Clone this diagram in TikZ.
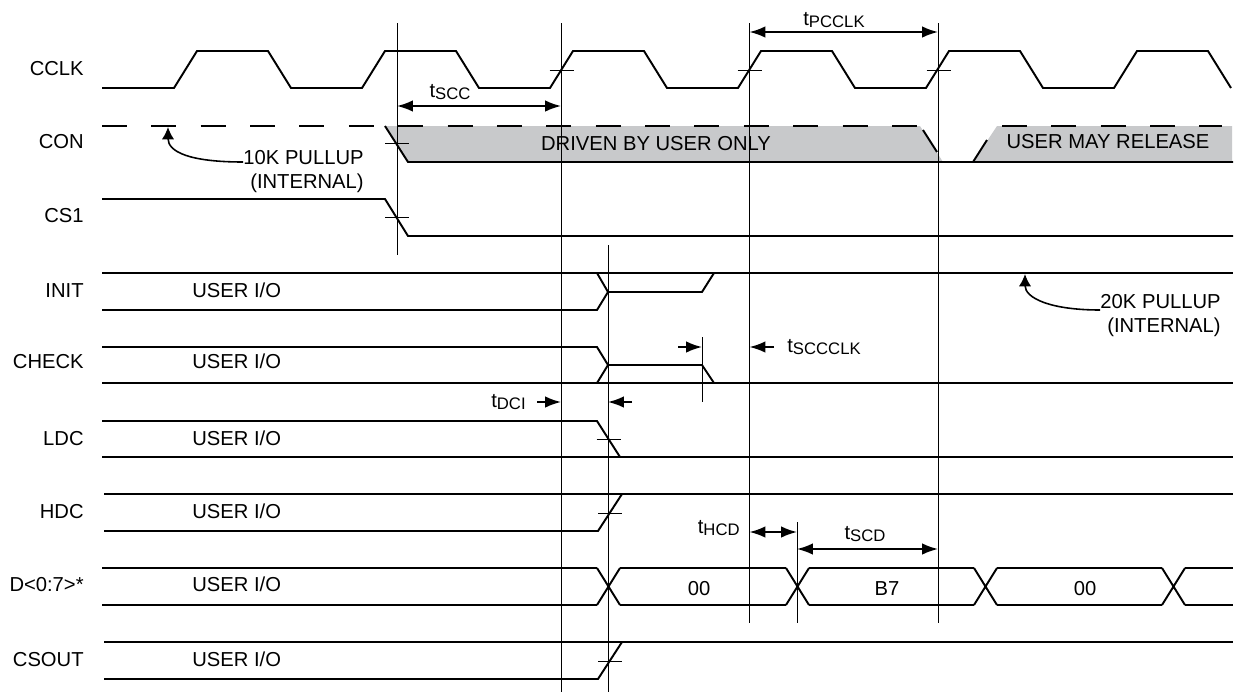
\documentclass[tikz,border=0pt]{standalone}
\usepackage{fontspec}
\setmainfont{Liberation Sans}
\usetikzlibrary{arrows.meta}
\definecolor{drivegray}{RGB}{200,201,203}
\newcommand{\tsub}[1]{t\raisebox{-1.7pt}{\fontsize{9.5}{10}\selectfont #1}}

\begin{document}
\begin{tikzpicture}[x=0.02cm,y=-0.02cm,
    sig/.style={line width=1.1pt},
    tline/.style={line width=0.55pt},
    tickmk/.style={line width=0.55pt},
    dimarrow/.style={line width=1pt,{Latex[length=9pt,width=6.5pt]}-{Latex[length=9pt,width=6.5pt]}},
    halfarrow/.style={line width=1pt,-{Latex[length=9pt,width=6.5pt]}},
    pull/.style={line width=0.9pt,-{Latex[length=7pt,width=7pt]}},
    lbl/.style={inner sep=0pt,font=\fontsize{11.5}{13.6}\selectfont},
    conpat/.style={sig,dash pattern=on 14.2pt off 13.9pt}]

    \useasboundingbox (0,0) rectangle (1235,694);

    % signal names
    \node[lbl,anchor=base east] (lcclk) at (84,75.5) {CCLK};
    \node[lbl,anchor=base east] (lcon) at (84,148) {CON};
    \node[lbl,anchor=base east] (lcs1) at (84,222) {CS1};
    \node[lbl,anchor=base east] (linit) at (84,297) {INIT};
    \node[lbl,anchor=base east] (lcheck) at (84,368) {CHECK};
    \node[lbl,anchor=base east] (lldc) at (84,445) {LDC};
    \node[lbl,anchor=base east] (lhdc) at (84,518) {HDC};
    \node[lbl,anchor=base east] (ldata) at (84,591) {D<0:7>*};
    \node[lbl,anchor=base east] (lcsout) at (84,666) {CSOUT};
    \foreach \y/\n in {297/init,368/check,445/ldc,518/hdc,591/data,666/csout}
      \node[lbl,anchor=base west] (io\n) at (192,\y) {USER I/O};

    % CON driven region
    \fill[drivegray] (385,126) -- (408,162) -- (943,162) -- (920,126) -- cycle;
    \fill[drivegray] (973,162) -- (997,126) -- (1232,126) -- (1232,162) -- cycle;
    \node[lbl,anchor=base] (driven) at (656,150) {DRIVEN BY USER ONLY};
    \node[lbl,anchor=base] (release) at (1108,148) {USER MAY RELEASE};

    % CCLK
    \draw[sig] (102,88) foreach \k in {0,...,5} {
      -- ({174+188*\k},88) -- ({197+188*\k},51) -- ({268+188*\k},51) -- ({291+188*\k},88) };

    % CON
    \draw[conpat] (102,126) -- (920,126);
    \draw[conpat] (1002,126) -- (1222,126);
    \draw[sig] (385,126) -- (408,162) -- (1233,162);
    \draw[sig] (923,130) -- (937,152);
    \draw[sig] (973,162) -- (987,140);

    % CS1
    \draw[sig] (102,199) -- (385,199) -- (408,236) -- (1233,236);

    % INIT
    \draw[sig] (102,273) -- (1233,273);
    \draw[sig] (102,310) -- (597,310) -- (608,292) -- (702,292) -- (714,273);
    \draw[sig] (597,273) -- (608,292);

    % CHECK
    \draw[sig] (102,383) -- (1233,383);
    \draw[sig] (102,347) -- (597,347) -- (608,365) -- (702,365) -- (714,383);
    \draw[sig] (597,383) -- (608,365);

    % LDC
    \draw[sig] (102,421) -- (597,421) -- (620,457);
    \draw[sig] (102,457) -- (1233,457);

    % HDC
    \draw[sig] (104,494) -- (1233,494);
    \draw[sig] (104,531) -- (598,531) -- (622,494);

    % D<0:7>
    \draw[sig] (102,568) -- (597,568) (620,568) -- (786,568) (809,568) -- (974,568)
      (997,568) -- (1162,568) (1185,568) -- (1233,568);
    \draw[sig] (102,605) -- (597,605) (620,605) -- (786,605) (809,605) -- (974,605)
      (997,605) -- (1162,605) (1185,605) -- (1233,605);
    \foreach \c in {608.5,797.5,985.5,1173.5}
      \draw[sig] ({\c-11.5},568) -- ({\c+11.5},605) ({\c-11.5},605) -- ({\c+11.5},568);
    \node[lbl,anchor=base] (d00a) at (699,595.5) {00};
    \node[lbl,anchor=base] (db7) at (887,595.5) {B7};
    \node[lbl,anchor=base] (d00b) at (1085,595.5) {00};

    % CSOUT
    \draw[sig] (104,642) -- (1233,642);
    \draw[sig] (104,679) -- (598,679) -- (622,642);

    % crossing ticks
    \foreach \x/\y in {561.5/70,749.5/70,938.5/70,397/143,397/217,608.5/439,610/513,610/661}
      \draw[tickmk] ({\x-12},\y) -- ({\x+12},\y);

    % timing markers
    \coordinate (ma) at (397,23);   \coordinate (mab) at (397,255);
    \coordinate (mb) at (561,23);   \coordinate (mbb) at (561,692);
    \coordinate (mc) at (608,245);  \coordinate (mcb) at (608,692);
    \coordinate (md) at (749.5,23); \coordinate (mdb) at (749.5,623);
    \coordinate (me) at (938,23);   \coordinate (meb) at (938,623);
    \coordinate (mf) at (702,337);  \coordinate (mfb) at (702,402);
    \coordinate (mg) at (797,522);  \coordinate (mgb) at (797,623);
    \foreach \t/\b in {ma/mab,mb/mbb,mc/mcb,md/mdb,me/meb,mf/mfb,mg/mgb}
      \draw[tline] (\t) -- (\b);

    % timing arrows
    \draw[dimarrow] (ma |- 0,106) -- (mb |- 0,106);
    \node[lbl,anchor=base] (tscc) at (450,97) {\tsub{SCC}};
    \draw[dimarrow] (md |- 0,32) -- (me |- 0,32);
    \node[lbl,anchor=base] (tpcclk) at (834,25) {\tsub{PCCLK}};
    \draw[halfarrow] (537,402) -- (mb |- 0,402);
    \draw[halfarrow] (632,402) -- (mc |- 0,402);
    \node[lbl,anchor=base east] (tdci) at (526,407) {\tsub{DCI}};
    \draw[halfarrow] (678,347) -- (mf |- 0,347);
    \draw[halfarrow] (774,347) -- (md |- 0,347);
    \node[lbl,anchor=base west] (tsccclk) at (787,352) {\tsub{SCCCLK}};
    \draw[dimarrow] (md |- 0,532) -- (mg |- 0,532);
    \node[lbl,anchor=base east] (thcd) at (740,533) {\tsub{HCD}};
    \draw[dimarrow] (mg |- 0,549) -- (me |- 0,549);
    \node[lbl,anchor=base] (tscd) at (865,539) {\tsub{SCD}};

    % pullups
    \node[lbl,anchor=base east,align=right] (pull10) at (364,188) {10K PULLUP\\(INTERNAL)};
    \draw[pull] (pull10.west |- 0,162) .. controls (190,162) and (168,152) .. (168,127);
    \node[lbl,anchor=base east,align=right] (pull20) at (1221,332) {20K PULLUP\\(INTERNAL)};
    \draw[pull] (pull20.west |- 0,310) .. controls (1050,310) and (1025,298) .. (1025,274);
\end{tikzpicture}
\end{document}
